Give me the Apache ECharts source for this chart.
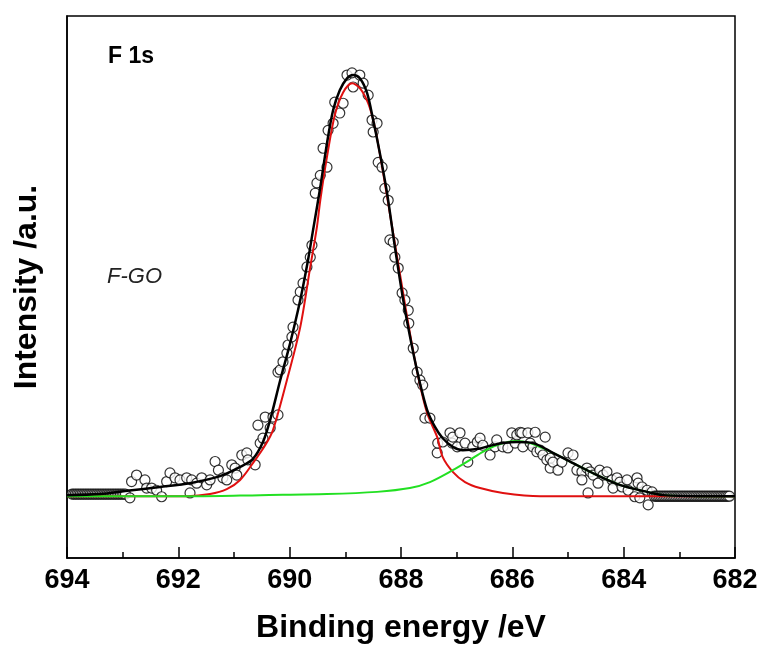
<!DOCTYPE html>
<html>
<head>
<meta charset="utf-8">
<title>F 1s</title>
<script src="https://cdn.jsdelivr.net/npm/echarts@6/dist/echarts.min.js"></script>
<style>
  html, body { margin: 0; padding: 0; background: #fff; }
  #chart { width: 760px; height: 646px; }
</style>
</head>
<body>
<div id="chart"></div>
<script>
// 实测数据点（结合能 eV / 强度）
const obsE = [692.87, 692.84, 692.75, 692.60, 692.57, 692.48, 692.39, 692.30, 692.21, 692.15,
  692.06, 691.97, 691.85, 691.79, 691.76, 691.67, 691.58, 691.49, 691.43, 691.34,
  691.28, 691.20, 691.13, 691.04, 690.98, 690.95, 690.86, 690.77, 690.75, 690.62,
  690.57, 690.53, 690.48, 690.44, 690.35, 690.30, 690.21, 690.21, 690.17, 690.12,
  690.05, 690.03, 689.96, 689.94, 689.85, 689.81, 689.76, 689.69, 689.63, 689.60,
  689.54, 689.51, 689.45, 689.40, 689.33, 689.31, 689.22, 689.19, 689.10, 689.04,
  688.97, 688.88, 688.86, 688.74, 688.68, 688.59, 688.52, 688.50, 688.43, 688.41,
  688.34, 688.29, 688.23, 688.20, 688.14, 688.11, 688.05, 687.98, 687.93, 687.87,
  687.86, 687.78, 687.71, 687.66, 687.61, 687.57, 687.48, 687.35, 687.34, 687.25,
  687.12, 687.08, 687.07, 686.99, 686.94, 686.85, 686.80, 686.71, 686.63, 686.58,
  686.53, 686.40, 686.31, 686.28, 686.17, 686.08, 686.01, 685.95, 685.92, 685.86,
  685.83, 685.81, 685.72, 685.68, 685.63, 685.59, 685.56, 685.50, 685.45, 685.41,
  685.38, 685.32, 685.32, 685.27, 685.18, 685.11, 685.00, 684.91, 684.84, 684.75,
  684.75, 684.66, 684.64, 684.60, 684.55, 684.46, 684.43, 684.37, 684.30, 684.21,
  684.19, 684.12, 684.07, 684.03, 683.94, 683.92, 683.80, 683.76, 683.74, 683.71,
  683.67, 683.58, 683.56, 683.49]
const obsI = [11.1, 14.1, 15.3, 14.4, 12.9, 12.9, 12.5, 11.3, 14.1, 15.7,
  14.8, 14.4, 14.8, 12.0, 14.4, 13.8, 14.8, 13.5, 14.4, 17.8,
  16.2, 14.8, 14.4, 17.2, 16.6, 15.3, 19.0, 19.4, 18.1, 17.2,
  24.5, 21.2, 22.1, 26.0, 24.0, 26.0, 26.4, 34.3, 34.7, 36.2,
  37.8, 39.3, 40.8, 42.6, 47.6, 49.1, 50.7, 53.7, 55.5, 57.7,
  67.3, 69.2, 70.6, 75.6, 72.1, 78.9, 80.2, 84.1, 82.1, 83.9,
  89.1, 89.5, 86.9, 89.1, 87.6, 85.4, 80.8, 78.6, 80.2, 73.0,
  72.1, 68.2, 66.0, 58.7, 58.3, 55.5, 53.5, 48.9, 47.6, 45.7,
  43.3, 38.7, 34.3, 32.8, 31.9, 25.8, 25.8, 19.4, 21.2, 21.4,
  23.1, 21.2, 22.3, 20.5, 23.1, 21.2, 17.7, 20.5, 21.4, 22.1,
  20.8, 19.0, 20.5, 21.8, 20.5, 20.3, 23.1, 21.2, 22.7, 23.2,
  23.1, 20.5, 23.1, 21.2, 20.5, 23.2, 19.6, 19.9, 19.0, 22.3,
  18.1, 18.4, 16.6, 17.7, 16.2, 17.7, 19.4, 19.0, 16.2, 15.9,
  14.4, 16.6, 12.0, 15.9, 15.3, 13.8, 16.2, 15.3, 15.9, 14.4,
  12.9, 14.8, 14.0, 13.1, 14.4, 12.5, 11.3, 14.8, 13.8, 11.1,
  13.1, 12.5, 9.8, 12.2]

// 两端基线上的密集数据点
const tailLeftE = [693.91, 693.88, 693.85, 693.82, 693.79, 693.76, 693.73, 693.70, 693.67, 693.64,
  693.61, 693.58, 693.55, 693.52, 693.49, 693.46, 693.43, 693.40, 693.37, 693.34,
  693.31, 693.28, 693.25, 693.22, 693.19, 693.16, 693.13, 693.10, 693.07, 693.04,
  693.01, 692.98, 692.95]
const tailLeftI = 11.8
const tailRightE = [683.45, 683.42, 683.39, 683.36, 683.33, 683.30, 683.27, 683.24, 683.21, 683.18,
  683.15, 683.12, 683.09, 683.06, 683.03, 683.00, 682.97, 682.94, 682.91, 682.88,
  682.85, 682.82, 682.79, 682.76, 682.73, 682.70, 682.67, 682.64, 682.61, 682.58,
  682.55, 682.52, 682.49, 682.46, 682.43, 682.40, 682.37, 682.34, 682.31, 682.28,
  682.25, 682.22, 682.19, 682.16, 682.13, 682.10]
const tailRightI = 11.4

// 拟合总曲线（黑）
const fitE = [694.00, 693.41, 692.92, 692.33, 691.79, 691.25, 690.89, 690.66, 690.48, 690.35,
  690.17, 689.99, 689.81, 689.67, 689.58, 689.45, 689.33, 689.22, 689.10, 688.97,
  688.86, 688.74, 688.61, 688.50, 688.38, 688.25, 688.11, 687.96, 687.80, 687.66,
  687.53, 687.39, 687.25, 687.07, 686.89, 686.63, 686.40, 686.17, 685.92, 685.63,
  685.27, 684.91, 684.48, 684.07, 683.58, 683.29, 682.63, 682.00]
const fitI = [11.6, 11.8, 12.4, 13.1, 13.8, 15.1, 16.8, 18.3, 21.4, 25.5,
  32.8, 39.7, 47.6, 55.0, 60.5, 68.4, 76.5, 82.6, 86.3, 88.5,
  89.1, 88.5, 85.8, 80.8, 74.7, 67.3, 57.4, 47.6, 38.9, 32.3,
  27.3, 24.2, 22.1, 20.5, 19.9, 20.1, 20.7, 21.2, 21.4, 21.2,
  19.4, 17.5, 15.3, 13.5, 12.2, 11.6, 11.4, 11.4]

// 主峰（红）
const peak1E = [694.00, 691.84, 691.43, 691.13, 690.89, 690.66, 690.44, 690.30, 690.05, 689.81,
  689.63, 689.51, 689.45, 689.33, 689.19, 689.04, 688.88, 688.74, 688.59, 688.47,
  688.32, 688.16, 687.98, 687.84, 687.69, 687.53, 687.35, 687.25, 687.07, 686.85,
  686.58, 686.17, 685.50, 682.00]
const peak1I = [11.4, 11.4, 11.8, 12.7, 14.4, 17.5, 20.8, 23.6, 32.8, 42.6,
  53.7, 61.1, 66.0, 74.0, 81.7, 85.9, 87.6, 86.7, 83.9, 79.5,
  71.0, 61.1, 50.0, 41.5, 33.4, 26.7, 22.3, 18.6, 15.9, 14.0,
  12.9, 12.0, 11.4, 11.4]

// 次峰（绿）
const peak2E = [694.00, 691.61, 690.53, 689.33, 688.43, 687.84, 687.48, 687.07, 686.76, 686.53,
  686.28, 685.95, 685.68, 685.27, 684.91, 684.48, 684.07, 683.58, 683.29, 682.63, 682.00]
const peak2I = [11.4, 11.4, 11.6, 11.8, 12.2, 12.9, 14.0, 16.2, 18.1, 19.6,
  20.8, 21.6, 21.2, 19.4, 17.5, 15.3, 13.5, 12.2, 11.6, 11.4, 11.4]

const zip = (xs, ys) => xs.map((x, i) => [x, Array.isArray(ys) ? ys[i] : ys])

const font = 'Arial, "Liberation Sans", sans-serif'

const chart = echarts.init(document.getElementById('chart'), null, { renderer: 'canvas' })

const option = {
  backgroundColor: '#fff',
  animation: false,
  grid: {
    left: 67,
    right: 25,
    top: 16,
    bottom: 88,
    // 不让坐标轴名称挤压绘图区
    outerBoundsMode: 'none',
    containLabel: false,
    show: true,
    borderColor: '#000',
    borderWidth: 1.5,
    backgroundColor: 'transparent'
  },
  xAxis: {
    type: 'value',
    min: 682,
    max: 694,
    interval: 2,
    inverse: true,
    name: 'Binding energy /eV',
    nameLocation: 'middle',
    nameGap: 54,
    nameTextStyle: { fontFamily: font, fontWeight: 'bold', fontSize: 32, color: '#000' },
    axisLine: { lineStyle: { color: '#000', width: 1.5 } },
    axisTick: { inside: true, length: 11, lineStyle: { color: '#000', width: 1.5 } },
    minorTick: { show: true, splitNumber: 2, length: 6, lineStyle: { color: '#000', width: 1.5 } },
    axisLabel: { fontFamily: font, fontWeight: 'bold', fontSize: 27, color: '#000', margin: 9 },
    splitLine: { show: false }
  },
  yAxis: {
    type: 'value',
    min: 0,
    max: 100,
    name: 'Intensity /a.u.',
    nameLocation: 'middle',
    nameGap: 24,
    nameTextStyle: { fontFamily: font, fontWeight: 'bold', fontSize: 32, color: '#000' },
    axisLine: { show: true, lineStyle: { color: '#000', width: 1.5 } },
    axisTick: { show: false },
    axisLabel: { show: false },
    splitLine: { show: false }
  },
  graphic: [
    {
      type: 'text', left: 108, top: 45,
      style: { text: 'F 1s', fontFamily: font, fontWeight: 'bold', fontSize: 23, fill: '#000' }
    },
    {
      type: 'text', left: 107, top: 266,
      style: { text: 'F-GO', fontFamily: font, fontStyle: 'italic', fontSize: 22, fill: '#222' }
    }
  ],
  series: [
    {
      type: 'scatter',
      data: zip(tailLeftE, tailLeftI).concat(zip(obsE, obsI), zip(tailRightE, tailRightI)),
      symbol: 'circle',
      symbolSize: 10,
      itemStyle: { color: '#fff', borderColor: '#000', borderWidth: 1.2 },
      z: 2
    },
    {
      // 红线在绿线之下
      type: 'line',
      data: zip(peak1E, peak1I),
      smooth: 0.3,
      showSymbol: false,
      lineStyle: { color: '#e01010', width: 2 },
      z: 3
    },
    {
      type: 'line',
      data: zip(peak2E, peak2I),
      smooth: 0.3,
      showSymbol: false,
      lineStyle: { color: '#22e022', width: 2 },
      z: 4
    },
    {
      type: 'line',
      data: zip(fitE, fitI),
      smooth: 0.3,
      showSymbol: false,
      lineStyle: { color: '#000', width: 2.5 },
      z: 5
    }
  ]
}

chart.setOption(option)
window.addEventListener('resize', chart.resize)
</script>
</body>
</html>
